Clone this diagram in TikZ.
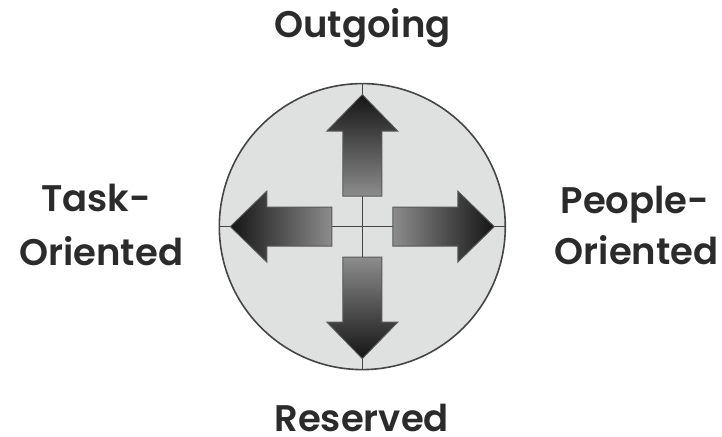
\documentclass[tikz,border=0pt]{standalone}
\usepackage{fontspec}
\setmainfont{Poppins}[UprightFont=* Medium, BoldFont=* SemiBold]
\usetikzlibrary{calc}
\definecolor{txt}{HTML}{2B2B2B}
\definecolor{disc}{HTML}{DFE0E0}
\definecolor{rim}{HTML}{454545}
\definecolor{arrlight}{HTML}{8C8C8C}
\definecolor{arrdark}{HTML}{151515}
\definecolor{arredge}{HTML}{5A5A5A}
\tikzset{
  lbl/.style={font=\fontsize{37}{46}\selectfont\bfseries, text=txt, anchor=base, inner sep=0pt},
  arrowbox/.style={draw=arredge, line width=0.9pt, line join=miter},
  crossline/.style={draw=rim, line width=1.2pt}
}
\begin{document}
\begin{tikzpicture}[x=1pt,y=-1pt]
\useasboundingbox (0,0) rectangle (722,436);
\def\cx{362.3}\def\cy{226.6}
\def\ri{30.5}\def\rb{95.5}\def\rt{132}\def\sh{19.5}\def\hh{35.5}
\node[circle, draw=rim, line width=1.6pt, fill=disc, minimum size=286pt, inner sep=0pt] (c) at (\cx,\cy) {};
\draw[crossline] (c.north) -- (c.south);
\draw[crossline] (c.west) -- (c.east);
% up arrow
\path[arrowbox, bottom color=arrlight, top color=arrdark]
  (\cx-\sh,\cy-\ri) -- (\cx-\sh,\cy-\rb) -- (\cx-\hh,\cy-\rb) -- (\cx,\cy-\rt) -- (\cx+\hh,\cy-\rb) -- (\cx+\sh,\cy-\rb) -- (\cx+\sh,\cy-\ri) -- cycle;
% down arrow
\path[arrowbox, top color=arrlight, bottom color=arrdark]
  (\cx-\sh,\cy+\ri) -- (\cx-\sh,\cy+\rb) -- (\cx-\hh,\cy+\rb) -- (\cx,\cy+\rt) -- (\cx+\hh,\cy+\rb) -- (\cx+\sh,\cy+\rb) -- (\cx+\sh,\cy+\ri) -- cycle;
% right arrow
\path[arrowbox, left color=arrlight, right color=arrdark]
  (\cx+\ri,\cy-\sh) -- (\cx+\rb,\cy-\sh) -- (\cx+\rb,\cy-\hh) -- (\cx+\rt,\cy) -- (\cx+\rb,\cy+\hh) -- (\cx+\rb,\cy+\sh) -- (\cx+\ri,\cy+\sh) -- cycle;
% left arrow
\path[arrowbox, right color=arrlight, left color=arrdark]
  (\cx-\ri,\cy-\sh) -- (\cx-\rb,\cy-\sh) -- (\cx-\rb,\cy-\hh) -- (\cx-\rt,\cy) -- (\cx-\rb,\cy+\hh) -- (\cx-\rb,\cy+\sh) -- (\cx-\ri,\cy+\sh) -- cycle;
% labels
\node[lbl] (out) at (362.5,37.5) {Outgoing};
\node[lbl] (res) at (361.7,431) {Reserved};
\node[lbl] (taskA) at (96,211.7) {Task-};
\node[lbl] (taskB) at (101.2,265) {Oriented};
\node[lbl] (peopA) at (635,213.3) {People-};
\node[lbl] (peopB) at (636.7,264.3) {Oriented};
\end{tikzpicture}
\end{document}
